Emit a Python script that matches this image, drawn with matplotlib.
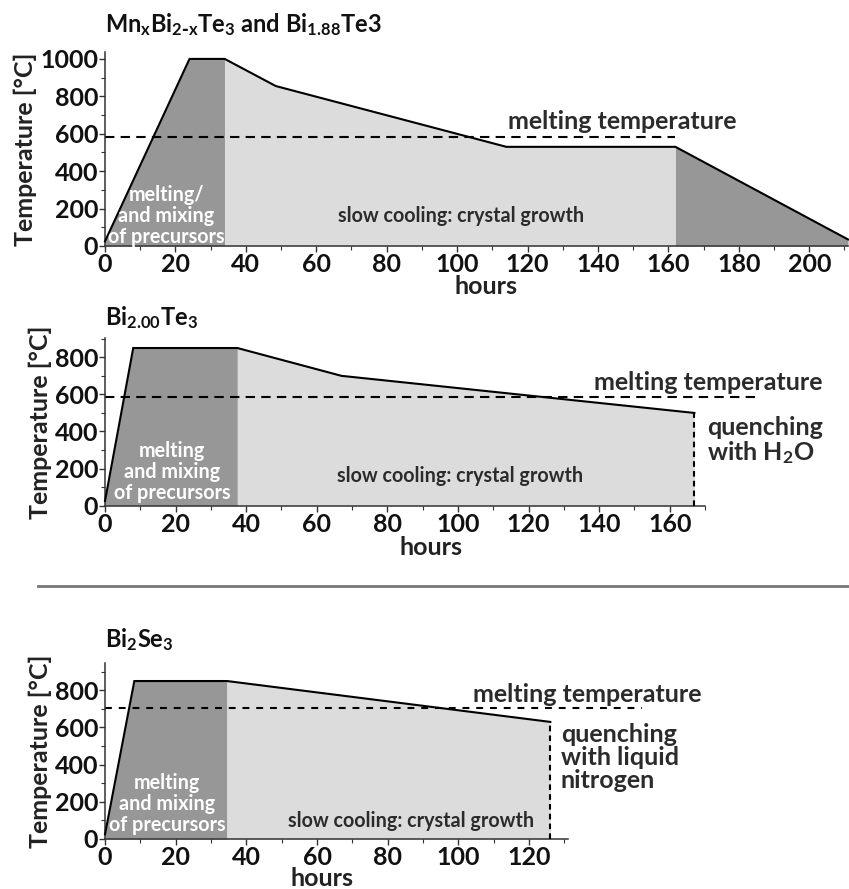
import numpy as np
import matplotlib
matplotlib.use('Agg')
import matplotlib.pyplot as plt
from matplotlib.ticker import MultipleLocator

plt.rcParams['font.family'] = ['Lato', 'DejaVu Sans']
plt.rcParams['font.weight'] = 'bold'
plt.rcParams['mathtext.default'] = 'regular'

# ---- temperature programmes (hours, degC) ----
mnbt_hours = [0, 24, 34, 48.5, 114, 162, 211]
mnbt_temp = [25, 1000, 1000, 855, 530, 530, 35]
mnbt_melt = 585

bt_hours = [0, 8, 37.5, 67, 167]
bt_temp = [25, 850, 850, 700, 500]
bt_melt = 585

bs_hours = [0, 8.3, 34.5, 126]
bs_temp = [25, 850, 850, 630]
bs_melt = 706

DARK = '#979797'
LIGHT = '#dcdcdc'
INK = '#2b2b2b'
FS = 18      # ticks, axis labels, annotations
FS_IN = 14.2  # labels inside the shaded regions
MELT_DASH = (0, (4.5, 3))
QUENCH_DASH = (0, (2.7, 2))

W, H = 849, 889
fig = plt.figure(figsize=(W / 100, H / 100), dpi=100)


def box(x0, y0, x1, y1):
    # pixel box -> figure fraction rect
    return [x0 / W, 1 - y1 / H, (x1 - x0) / W, (y1 - y0) / H]


def style(ax, xmax, ymax, xticks):
    ax.set_xlim(0, xmax)
    ax.set_ylim(0, ymax)
    for s in ('top', 'right'):
        ax.spines[s].set_visible(False)
    for s in ('left', 'bottom'):
        ax.spines[s].set_linewidth(1.1)
        ax.spines[s].set_color('#333333')
    ax.set_xticks(xticks)
    ax.xaxis.set_minor_locator(MultipleLocator(10))
    ax.yaxis.set_major_locator(MultipleLocator(200))
    ax.yaxis.set_minor_locator(MultipleLocator(100))
    ax.tick_params(which='major', length=4, width=1, labelsize=FS, pad=1,
                   colors='#333333', labelcolor='#111111')
    ax.tick_params(which='minor', length=3, width=0.8, colors='#333333')
    ax.set_ylabel('Temperature [°C]', fontsize=FS, fontweight='bold',
                  color='#222222', labelpad=2)


def profile(ax, hrs, tmp, split, tail=None):
    x = np.array(hrs, dtype=float)
    y = np.array(tmp, dtype=float)
    ax.fill_between(x, 0, y, where=x <= split, color=DARK, lw=0, zorder=1)
    hi = tail if tail is not None else x[-1]
    ax.fill_between(x, 0, y, where=(x >= split) & (x <= hi), color=LIGHT,
                    lw=0, zorder=1)
    if tail is not None:
        ax.fill_between(x, 0, y, where=x >= tail, color=DARK, lw=0, zorder=1)
    ax.plot(x, y, color='black', lw=1.5, zorder=3, clip_on=False,
            solid_joinstyle='miter')


def hours_label(ax, xf, yf):
    ax.set_xlabel('hours', fontsize=FS, fontweight='bold', color='#222222')
    ax.xaxis.set_label_coords(xf, yf)


# ===== MnxBi2-xTe3 and Bi1.88Te3 =====
ax1 = fig.add_axes(box(105, 52, 848, 246))
profile(ax1, mnbt_hours, mnbt_temp, 34, tail=162)
ax1.plot([0, 162], [mnbt_melt, mnbt_melt], color='black', lw=1.5,
         ls=MELT_DASH, zorder=2)
style(ax1, 211, 1037, range(0, 201, 20))
hours_label(ax1, 0.513, -0.15)
ax1.text(147, 668, 'melting temperature', fontsize=FS, ha='center',
         va='center', color=INK)
ax1.text(17.5, 160, 'melting/\nand mixing\nof precursors', fontsize=FS_IN,
         ha='center', va='center', color='white', linespacing=1.04, zorder=4)
ax1.text(101, 160, 'slow cooling: crystal growth', fontsize=FS_IN,
         ha='center', va='center', color=INK)
fig.text(105 / W, 1 - 25 / H,
         r'Mn$_{x}$Bi$_{2\text{-}x}$Te$_{3}$ and Bi$_{1.88}$Te3',
         fontsize=17, fontweight='bold', va='center', color='#111111')

# ===== Bi2.00Te3 =====
ax2 = fig.add_axes(box(105, 338, 705, 505.7))
profile(ax2, bt_hours, bt_temp, 37.5)
ax2.plot([0, 185], [bt_melt, bt_melt], color='black', lw=1.5,
         ls=MELT_DASH, zorder=2, clip_on=False)
ax2.plot([bt_hours[-1], bt_hours[-1]], [0, bt_temp[-1]], color='black',
         lw=1.5, ls=QUENCH_DASH, zorder=3)
style(ax2, 170, 904, range(0, 161, 20))
hours_label(ax2, 0.543, -0.18)
ax2.text(171, 665, 'melting temperature', fontsize=FS, ha='center',
         va='center', color=INK, clip_on=False)
ax2.text(170.5, 351, 'quenching\nwith H$_{2}$O', fontsize=FS, ha='left',
         va='center', color=INK, linespacing=1.0)
ax2.text(19, 182, 'melting\nand mixing\nof precursors', fontsize=FS_IN,
         ha='center', va='center', color='white', linespacing=1.04, zorder=4)
ax2.text(100.5, 160, 'slow cooling: crystal growth', fontsize=FS_IN,
         ha='center', va='center', color=INK)
fig.text(105 / W, 1 - 318 / H, r'Bi$_{2.00}$Te$_{3}$', fontsize=17,
         fontweight='bold', va='center', color='#111111')

# separator between the Te and Se compounds
fig.add_artist(plt.Line2D([38 / W, 1.0], [1 - 586 / H, 1 - 586 / H],
                          color='#777777', lw=2))

# ===== Bi2Se3 =====
ax3 = fig.add_axes(box(105, 663, 568, 839))
profile(ax3, bs_hours, bs_temp, 34.5)
ax3.plot([0, 152], [bs_melt, bs_melt], color='black', lw=1.5,
         ls=(0, (3.3, 3.3)), zorder=2, clip_on=False)
ax3.plot([bs_hours[-1], bs_hours[-1]], [0, bs_temp[-1]], color='black',
         lw=1.5, ls=QUENCH_DASH, zorder=3)
style(ax3, 131, 947, range(0, 121, 20))
hours_label(ax3, 0.469, -0.16)
ax3.text(136.5, 780, 'melting temperature', fontsize=FS, ha='center',
         va='center', color=INK, clip_on=False)
ax3.text(129, 441, 'quenching\nwith liquid\nnitrogen', fontsize=FS,
         ha='left', va='center', color=INK, linespacing=1.0)
ax3.text(17.5, 188, 'melting\nand mixing\nof precursors', fontsize=FS_IN,
         ha='center', va='center', color='white', linespacing=1.04, zorder=4)
ax3.text(86.5, 97, 'slow cooling: crystal growth', fontsize=FS_IN,
         ha='center', va='center', color=INK)
fig.text(105 / W, 1 - 640 / H, r'Bi$_{2}$Se$_{3}$', fontsize=17,
         fontweight='bold', va='center', color='#111111')

fig.savefig('out.png', dpi=100)
